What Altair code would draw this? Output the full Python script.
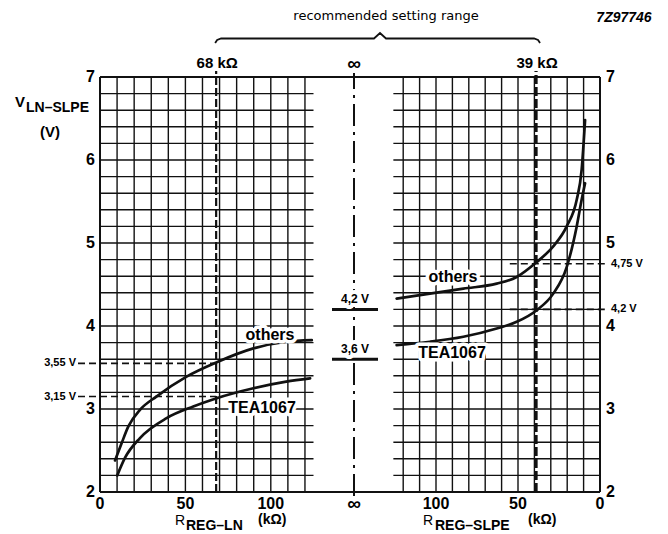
import altair as alt
import pandas as pd

# ---------------- data ----------------
# left half: V_LN-SLPE (V) versus R_REG-LN (kΩ)
ln_R_others = [8.8, 12.7, 16.6, 23.4, 33, 50.7, 68, 89.8, 109, 124]
ln_V_others = [2.38, 2.59, 2.79, 2.99, 3.15, 3.39, 3.56, 3.73, 3.81, 3.83]
ln_R_tea = [10.1, 14.6, 23.4, 39, 54.6, 68.3, 89.8, 109, 123]
ln_V_tea = [2.20, 2.41, 2.65, 2.89, 3.03, 3.13, 3.25, 3.33, 3.37]

# right half: V_LN-SLPE (V) versus R_REG-SLPE (kΩ)
sl_R = [124, 103.7, 83.3, 63, 50.8, 38.6, 28.5, 20.3, 14.2, 11.2, 9.1]
sl_V_others = [4.33, 4.39, 4.45, 4.51, 4.59, 4.77, 4.96, 5.20, 5.52, 5.88, 6.48]
sl_V_tea = [3.77, 3.81, 3.87, 3.97, 4.05, 4.19, 4.39, 4.71, 5.20, 5.52, 5.72]

# no regulating resistor (infinity)
inf_V = [4.2, 3.6]
inf_labels = ["4,2 V", "3,6 V"]

# recommended setting range
rec_R_ln = 68
rec_R_sl = 39
ref_ln_V = [3.55, 3.15]
ref_ln_labels = ["3,55 V", "3,15 V"]
ref_sl_V = [4.75, 4.2]
ref_sl_labels = ["4,75 V", "4,2 V"]

y_ticks = [2, 3, 4, 5, 6, 7]
x_ticks = [0, 50, 100]
grid_R = [10, 20, 30, 40, 50, 60, 70, 80, 90, 100, 110, 120]
grid_V = [2.2, 2.4, 2.6, 2.8, 3.0, 3.2, 3.4, 3.6, 3.8, 4.0, 4.2, 4.4, 4.6,
          4.8, 5.0, 5.2, 5.4, 5.6, 5.8, 6.0, 6.2, 6.4, 6.6, 6.8]

# ---------------- layout ----------------
W, H = 500, 415
PX_L = 1.708          # px per kΩ, left half
PX_R = 1.64           # px per kΩ, right half (reversed)
UC = 254              # position of the infinity line
L_END = 125           # left grid extends to this R
R_END = 126           # right grid starts at this R
VMIN, VMAX = 2, 7
PPV = H / (VMAX - VMIN)


def uL(r):
    return r * PX_L


def uR(r):
    return W - r * PX_R


def PV(py):
    """pixel offset from plot top -> volt value (for annotations)"""
    return VMIN + (H - py) / PPV


xs = alt.Scale(domain=[0, W], nice=False, zero=False)
ys = alt.Scale(domain=[VMIN, VMAX], nice=False, zero=False)


def X(f):
    return alt.X(f + ":Q", scale=xs, axis=None)


def Y(f):
    return alt.Y(f + ":Q", scale=ys, axis=None)


def rules(rows, **style):
    df = pd.DataFrame(rows, columns=["x", "x2", "y", "y2"])
    return alt.Chart(df).mark_rule(**style).encode(
        x=X("x"), x2="x2", y=Y("y"), y2="y2")


def texts(rows, halo=0, **style):
    df = pd.DataFrame(rows, columns=["x", "y", "t"])
    base = alt.Chart(df).encode(x=X("x"), y=Y("y"), text="t:N")
    out = []
    if halo:
        out.append(base.mark_text(fill="white", stroke="white",
                                  strokeWidth=halo, strokeJoin="round", **style))
    out.append(base.mark_text(color="black", **style))
    return out


FONT = "Liberation Sans"
INK = "#111111"

layers = []

# grid
hgrid = []
for v in grid_V:
    hgrid.append((0, uL(L_END), v, v))
    hgrid.append((uR(R_END), W, v, v))
vgrid = []
for r in grid_R:
    vgrid.append((uL(r), uL(r), VMIN, VMAX))
    vgrid.append((uR(r), uR(r), VMIN, VMAX))
layers.append(rules(hgrid + vgrid, color=INK, strokeWidth=1.4))

# frame
frame = [(0, W, VMAX, VMAX), (0, W, VMIN, VMIN),
         (0, 0, VMIN, VMAX), (W, W, VMIN, VMAX)]
layers.append(rules(frame, color=INK, strokeWidth=2))

# infinity dash-dot line
layers.append(rules([(UC, UC, PV(H + 4), PV(-4))], color=INK, strokeWidth=2,
                    strokeDash=[22, 6, 3, 6]))

# recommended settings (dashed verticals)
layers.append(rules([(uL(rec_R_ln), uL(rec_R_ln), VMIN, PV(-6))],
                    color=INK, strokeWidth=2.2, strokeDash=[8, 3]))
layers.append(rules([(uR(rec_R_sl), uR(rec_R_sl), VMIN, PV(-6))],
                    color=INK, strokeWidth=3.2, strokeDash=[9, 3]))

# reference voltage dashed horizontals
ref_rows = [(-22, uL(rec_R_ln), v, v) for v in ref_ln_V]
ref_rows += [(uR(55), W + 8, v, v) for v in ref_sl_V]
layers.append(rules(ref_rows, color=INK, strokeWidth=1.6, strokeDash=[7, 4]))

# short thick lines at infinity
layers.append(rules([(UC - 22, UC + 24, v, v) for v in inf_V],
                    color=INK, strokeWidth=3))

# curves
rows = []
for r, v in zip(ln_R_others, ln_V_others):
    rows.append((uL(r), v, "ln_others"))
for r, v in zip(ln_R_tea, ln_V_tea):
    rows.append((uL(r), v, "ln_tea"))
for r, v in zip(sl_R, sl_V_others):
    rows.append((uR(r), v, "sl_others"))
for r, v in zip(sl_R, sl_V_tea):
    rows.append((uR(r), v, "sl_tea"))
curves = pd.DataFrame(rows, columns=["x", "y", "s"])
layers.append(alt.Chart(curves).mark_line(
    color=INK, strokeWidth=2.7, interpolate="monotone", strokeCap="round").encode(
    x=X("x"), y=Y("y"), detail="s:N"))

# curve labels (with white halo that breaks the grid)
layers += texts([(170, PV(258), "others"), (353, PV(200), "others"),
                 (162, PV(331), "TEA1067"), (352, PV(276), "TEA1067")],
                halo=7, font=FONT, fontSize=16, fontWeight="bold",
                align="center", baseline="middle")

# infinity labels
layers += texts([(UC + 1, v, t) for v, t in zip(inf_V, inf_labels)],
                halo=8, font=FONT, fontSize=12, fontWeight="bold",
                align="center", baseline="bottom", dy=-3)

# reference voltage labels
layers += texts([(-24, v, t) for v, t in zip(ref_ln_V, ref_ln_labels)],
                font=FONT, fontSize=11, fontWeight="bold",
                align="right", baseline="middle")
layers += texts([(W + 11, v, t) for v, t in zip(ref_sl_V, ref_sl_labels)],
                font=FONT, fontSize=11, fontWeight="bold",
                align="left", baseline="middle")

# y tick labels both sides
layers += texts([(-5, v, str(v)) for v in y_ticks],
                font=FONT, fontSize=16, fontWeight="bold",
                align="right", baseline="middle")
layers += texts([(W + 6, v, str(v)) for v in y_ticks],
                font=FONT, fontSize=16, fontWeight="bold",
                align="left", baseline="middle")

# x tick labels
xt = [(uL(r), PV(427), str(r)) for r in x_ticks]
xt += [(uR(r), PV(427), str(r)) for r in x_ticks]
layers += texts(xt, font=FONT, fontSize=16, fontWeight="bold",
                align="center", baseline="middle")
layers += texts([(UC, PV(427), "∞")], font=FONT, fontSize=19,
                fontWeight="bold", align="center", baseline="middle")

# top labels
layers += texts([(uL(rec_R_ln) + 1, PV(-14), "68 kΩ"),
                 (uR(rec_R_sl) + 1, PV(-14), "39 kΩ")],
                font=FONT, fontSize=15, fontWeight="bold",
                align="center", baseline="middle")
layers += texts([(UC, PV(-13), "∞")], font=FONT, fontSize=19,
                fontWeight="bold", align="center", baseline="middle")

# brace for recommended setting range
bl, br, bm = uL(rec_R_ln) - 1, uR(rec_R_sl) + 4, 280
brace = pd.DataFrame({
    "x": [bl, bl + 2, bl + 6, bm - 6, bm, bm + 6, br - 6, br - 2, br],
    "y": [PV(-34), PV(-37), PV(-38.5), PV(-38.5), PV(-44), PV(-38.5),
          PV(-38.5), PV(-37), PV(-34)],
})
layers.append(alt.Chart(brace).mark_line(color=INK, strokeWidth=1.8).encode(
    x=X("x"), y=Y("y")))

layers += texts([(286, PV(-61), "recommended setting range")],
                font="DejaVu Sans", fontSize=13, align="center",
                baseline="middle")
layers += texts([(524, PV(-59), "7Z97746")], font=FONT, fontSize=14,
                fontWeight="bold", fontStyle="italic", align="center",
                baseline="middle")

# axis titles
layers += texts([(-85, PV(30), "V")], font=FONT, fontSize=15,
                fontWeight="bold", align="left", baseline="alphabetic")
layers += texts([(-74, PV(35), "LN\u2013SLPE")], font=FONT, fontSize=14,
                fontWeight="bold", align="left", baseline="alphabetic")
layers += texts([(-50, PV(55), "(V)")], font=FONT, fontSize=15,
                fontWeight="bold", align="center", baseline="middle")

for xr, xs_, xk, sub in [(75, 86, 158, "REG\u2013LN"),
                         (323, 335, 428, "REG\u2013SLPE")]:
    layers += texts([(xr, PV(448), "R")], font=FONT, fontSize=14,
                    align="left", baseline="alphabetic")
    layers += texts([(xs_, PV(453), sub)], font=FONT, fontSize=14,
                    fontWeight="bold", align="left", baseline="alphabetic")
    layers += texts([(xk, PV(447), "(kΩ)")], font=FONT, fontSize=14,
                    fontWeight="bold", align="left", baseline="alphabetic")

chart = alt.layer(*layers).properties(
    width=W, height=H,
    autosize=alt.AutoSizeParams(type="none"),
    padding={"left": 92, "top": 69, "right": 60, "bottom": 50},
    background="white",
).configure_view(stroke=None)

chart.save("out.html", embed_options={"renderer": "svg", "actions": False})
